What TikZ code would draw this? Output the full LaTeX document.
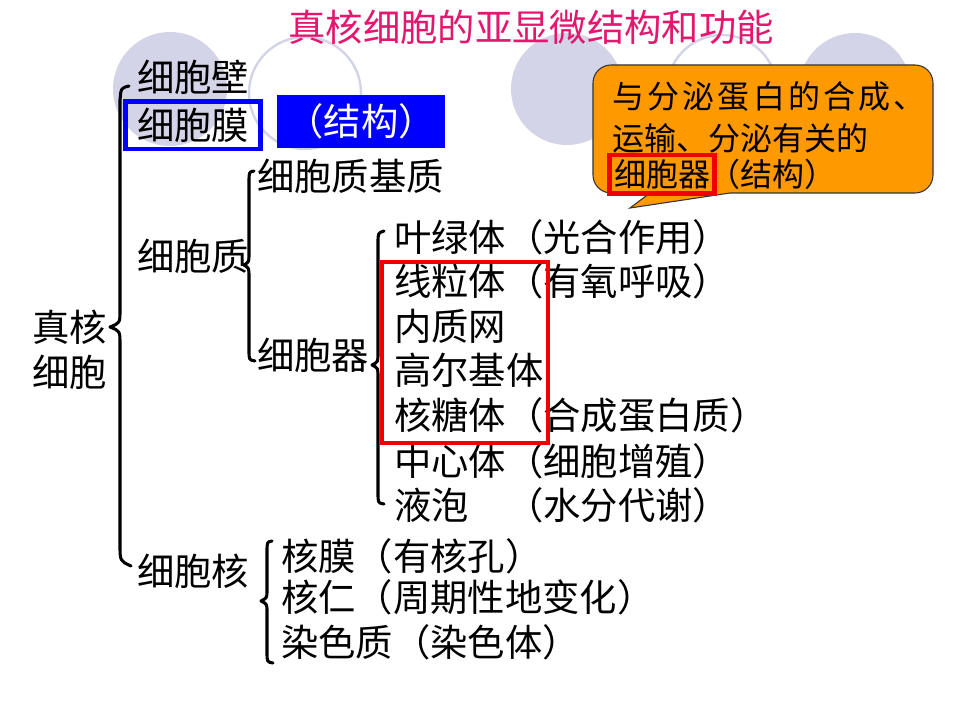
\documentclass[tikz,border=0pt]{standalone}
\usepackage{fontspec}
\setmainfont{Noto Sans CJK SC}
\definecolor{titlecol}{RGB}{228,22,110}
\definecolor{circcol}{RGB}{212,212,232}
\definecolor{boxblue}{RGB}{0,0,255}
\definecolor{callorange}{RGB}{255,153,0}
\definecolor{redbox}{RGB}{240,0,0}
\begin{document}
\begin{tikzpicture}[x=0.75pt,y=-0.75pt,
  lbl/.style={font=\fontsize{28}{32}\selectfont, inner sep=0pt, anchor=west, text height=24.6pt, text depth=3.4pt},
  clbl/.style={font=\fontsize{24}{28}\selectfont, inner sep=0pt, anchor=west, text height=21.1pt, text depth=2.9pt},
  brace/.style={line width=2.3pt, line cap=round, line join=round},
  ringc/.style={draw=circcol, line width=1.8pt},
  discc/.style={fill=circcol}]
\useasboundingbox (0,0) rectangle (960,720);
\fill[white] (0,0) rectangle (960,720);
% background circles
\fill[discc] (170,89) circle[radius=57];
\draw[ringc] (305,93) circle[radius=56];
\fill[discc] (567,89) circle[radius=56];
\draw[ringc] (722,90) circle[radius=55];
\fill[discc] (855,89) circle[radius=56];
% title
\node[font=\fontsize{28}{32}\selectfont, text=titlecol, inner sep=0pt, text height=24.6pt, text depth=3.4pt] (title) at (531,27) {真核细胞的亚显微结构和功能};
% level 0
\node[lbl] (root1) at (32,327) {真核};
\node[lbl] (root2) at (32,372) {细胞};
% level 1
\node[lbl] (wall) at (137,77) {细胞壁};
\node[lbl, draw=boxblue, line width=3.5pt, anchor=center, minimum width=101.5pt, minimum height=35.5pt, inner sep=0pt] (memb) at (193,125.5) {细胞膜};
\node[lbl, fill=boxblue, text=white, anchor=center, minimum width=126pt, minimum height=39.75pt] (struct) at (361,121.5) {（结构）};
\node[lbl] (cyto) at (137,256) {细胞质};
\node[lbl] (nucl) at (137,571) {细胞核};
% level 2
\node[lbl] (matrix) at (257,176) {细胞质基质};
\node[lbl] (organ) at (257,355) {细胞器};
% organelles
\node[lbl] (o1) at (394,237) {叶绿体（光合作用）};
\node[lbl] (o2) at (394,281) {线粒体（有氧呼吸）};
\node[lbl] (o3) at (394,326) {内质网};
\node[lbl] (o4) at (394,370) {高尔基体};
\node[lbl] (o5) at (394,415) {核糖体（合成蛋白质）};
\node[lbl] (o6) at (394,461) {中心体（细胞增殖）};
\node[lbl] (o7) at (394,505) {液泡　（水分代谢）};
% nucleus parts
\node[lbl] (n1) at (281,556) {核膜（有核孔）};
\node[lbl] (n2) at (281,597) {核仁（周期性地变化）};
\node[lbl] (n3) at (281,642) {染色质（染色体）};
% braces
\draw[brace] (129,86) .. controls (121,88) .. (120,100) -- (120,310) .. controls (120,323) .. (110,327) .. controls (120,331) .. (120,344) -- (120,545) .. controls (120,561) .. (131,566);
\draw[brace] (254,171) .. controls (249,172) .. (249,182) -- (249,253) .. controls (249,262) .. (244,265) .. controls (249,268) .. (249,277) -- (249,350) .. controls (249,360) .. (255,361);
\draw[brace] (384,231) .. controls (378,233) .. (378,243) -- (378,353) .. controls (378,362) .. (372,365) .. controls (378,368) .. (378,377) -- (378,493) .. controls (378,503) .. (384,504);
\draw[brace] (272,541) .. controls (267,542) .. (267,552) -- (267,590) .. controls (267,598) .. (261,601) .. controls (267,604) .. (267,612) -- (267,652) .. controls (267,662) .. (273,663);
% red box around organelles
\draw[redbox, line width=3.5pt] (382,262) rectangle (548,443);
% callout
\draw[fill=callorange, draw=black!80, line width=0.8pt]
  (611,65) -- (915,65) arc[start angle=-90, end angle=0, radius=18]
  -- (933,175) arc[start angle=0, end angle=90, radius=18]
  -- (730,193) -- (630,208) -- (650,193)
  -- (611,193) arc[start angle=90, end angle=180, radius=18]
  -- (593,83) arc[start angle=180, end angle=270, radius=18] -- cycle;
\node[clbl] (c1) at (612,96) {\addfontfeature{LetterSpace=10}与分泌蛋白的合成、};
\node[clbl] (c2) at (612,138) {运输、分泌有关的};
\node[clbl, draw=redbox, line width=3.5pt, anchor=center, minimum width=79pt, minimum height=29pt] (c3) at (662,174.5) {细胞器};
\node[clbl] (c4) at (708,174.5) {（结构）};
\end{tikzpicture}
\end{document}
